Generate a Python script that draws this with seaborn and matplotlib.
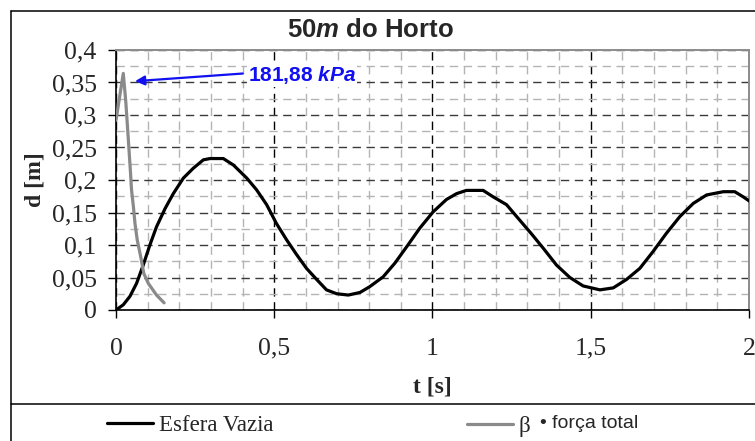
import numpy as np
import pandas as pd
import matplotlib
matplotlib.use("Agg")
import matplotlib.pyplot as plt
from matplotlib.ticker import MultipleLocator, FuncFormatter
from matplotlib.lines import Line2D
import seaborn as sns

# Deslocamento da esfera vazia (t em s, d em m)
t_esfera = [0.0, 0.023, 0.044, 0.065, 0.086, 0.107, 0.128, 0.155, 0.181, 0.213,
            0.244, 0.276, 0.297, 0.339, 0.371, 0.413, 0.444, 0.476, 0.507, 0.539,
            0.571, 0.602, 0.634, 0.665, 0.697, 0.734, 0.771, 0.802, 0.844, 0.881,
            0.918, 0.960, 1.002, 1.044, 1.076, 1.107, 1.160, 1.192, 1.234, 1.276,
            1.313, 1.350, 1.392, 1.434, 1.476, 1.529, 1.571, 1.613, 1.655, 1.697,
            1.739, 1.782, 1.824, 1.866, 1.919, 1.955, 1.982, 2.003]
d_esfera = [0.0, 0.008, 0.021, 0.041, 0.069, 0.100, 0.128, 0.156, 0.179, 0.203,
            0.218, 0.231, 0.233, 0.233, 0.223, 0.203, 0.185, 0.162, 0.133, 0.108,
            0.085, 0.064, 0.047, 0.031, 0.025, 0.023, 0.027, 0.036, 0.051, 0.072,
            0.097, 0.126, 0.151, 0.170, 0.179, 0.184, 0.184, 0.174, 0.162, 0.138,
            0.117, 0.095, 0.069, 0.050, 0.037, 0.031, 0.034, 0.047, 0.064, 0.090,
            0.118, 0.144, 0.164, 0.177, 0.182, 0.182, 0.174, 0.167]

# Curva beta x força total
t_forca = [0.0, 0.023, 0.031, 0.039, 0.046, 0.049, 0.055, 0.060, 0.067, 0.078,
           0.088, 0.102, 0.128, 0.152]
d_forca = [0.292, 0.364, 0.320, 0.262, 0.210, 0.185, 0.159, 0.133, 0.108, 0.082,
           0.056, 0.041, 0.023, 0.011]

pico_label = "181,88 $kPa$"
pico_t, pico_d = 0.060, 0.352

sns.set_theme(style="white")
plt.rcParams.update({
    "mathtext.fontset": "custom",
    "mathtext.it": "Liberation Sans:italic:bold",
    "mathtext.rm": "Liberation Sans:bold",
    "mathtext.bf": "Liberation Sans:bold",
    "lines.scale_dashes": False,
})
plt.rcParams["font.family"] = ["Liberation Serif", "DejaVu Serif"]

W, H = 755, 441
fig = plt.figure(figsize=(W / 100, H / 100), dpi=100)
ax = fig.add_axes([116 / W, 1 - 310 / H, (749 - 116) / W, (310 - 50) / H])

df_e = pd.DataFrame({"t": t_esfera, "d": d_esfera})
df_f = pd.DataFrame({"t": t_forca, "d": d_forca})
sns.lineplot(data=df_e, x="t", y="d", ax=ax, color="black", lw=2.3,
             sort=False, estimator=None, zorder=4,
             solid_joinstyle="round", solid_capstyle="round")
sns.lineplot(data=df_f, x="t", y="d", ax=ax, color="#8a8a8a", lw=2.3,
             sort=False, estimator=None, zorder=5,
             solid_joinstyle="round", solid_capstyle="round")

ax.set_xlim(0, 2)
ax.set_ylim(0, 0.4)
ax.xaxis.set_major_locator(MultipleLocator(0.5))
ax.xaxis.set_minor_locator(MultipleLocator(0.1))
ax.yaxis.set_major_locator(MultipleLocator(0.05))
ax.yaxis.set_minor_locator(MultipleLocator(0.025))
fmt = FuncFormatter(lambda v, p: f"{round(v, 3):g}".replace(".", ","))
ax.xaxis.set_major_formatter(fmt)
ax.yaxis.set_major_formatter(fmt)

ax.grid(False)
ax.set_axisbelow(True)
ax.grid(which="minor", axis="both", color="#b4b4b4", lw=1.0, ls=(0, (6, 4)))
ax.grid(which="major", axis="y", color="#3a3a3a", lw=1.0, ls=(0, (6, 4)))
ax.grid(which="major", axis="x", color="#000000", lw=1.0, ls=(0, (6, 4)))

ax.tick_params(axis="both", which="minor", length=0)
ax.tick_params(axis="x", which="major", direction="out", length=6, width=1,
               color="black", pad=14, labelsize=18.5, bottom=True)
ax.tick_params(axis="y", which="major", direction="out", length=6, width=1,
               color="black", pad=8, labelsize=18.5, left=True)

for s in ("left", "bottom"):
    ax.spines[s].set_color("black")
    ax.spines[s].set_linewidth(1.2)
for s in ("top", "right"):
    ax.spines[s].set_color("#8c8c8c")
    ax.spines[s].set_linewidth(1.4)

ax.set_xlabel("t [s]", fontsize=17, fontweight="bold")
ax.set_ylabel("d [m]", fontsize=17, fontweight="bold")
ax.xaxis.set_label_coords(0.5, -0.255)
ax.yaxis.set_label_coords(-0.112, 0.5)

ax.annotate(pico_label, xy=(pico_t, pico_d), xytext=(0.417, 0.361),
            textcoords="data", color="#1010f0", fontsize=15,
            fontfamily="Liberation Sans", fontweight="bold",
            ha="left", va="center",
            bbox=dict(boxstyle="square,pad=0.05", fc="white", ec="none"),
            arrowprops=dict(arrowstyle="-|>", color="#1010f0", lw=1.6,
                            mutation_scale=14, shrinkA=3, shrinkB=0,
                            relpos=(0, 0.6)), zorder=6)

fig.text(370 / W, 1 - 30 / H, "50$m$ do Horto", fontsize=18.5,
         fontfamily="Liberation Sans", fontweight="bold",
         ha="center", va="center")

# moldura do gráfico e divisória da legenda
frame_kw = dict(color="black", lw=1.1, transform=fig.transFigure)
fig.add_artist(Line2D([11 / W, 11 / W], [0, 1 - 11 / H], **frame_kw))
fig.add_artist(Line2D([11 / W, 1], [1 - 11 / H, 1 - 11 / H], **frame_kw))
fig.add_artist(Line2D([11 / W, 1], [1 - 404 / H, 1 - 404 / H], **frame_kw))

# legenda
h_esfera = Line2D([], [], color="black", lw=2.3)
h_forca = Line2D([], [], color="#8a8a8a", lw=2.3)
fig.legend([h_esfera], ["Esfera Vazia"], loc="center left",
           bbox_to_anchor=(107 / W, 1 - 425 / H), frameon=False,
           fontsize=16.5, handlelength=2.0, handletextpad=0.25,
           borderpad=0, borderaxespad=0)
fig.legend([h_forca], ["β"], loc="center left",
           bbox_to_anchor=(467 / W, 1 - 426 / H), frameon=False,
           fontsize=16.5, handlelength=2.0, handletextpad=0.25,
           borderpad=0, borderaxespad=0)
fig.text(540 / W, 1 - 424 / H, "• força total", fontsize=14,
         fontfamily="Liberation Sans", ha="left", va="center")

fig.savefig("out.png", dpi=100)
